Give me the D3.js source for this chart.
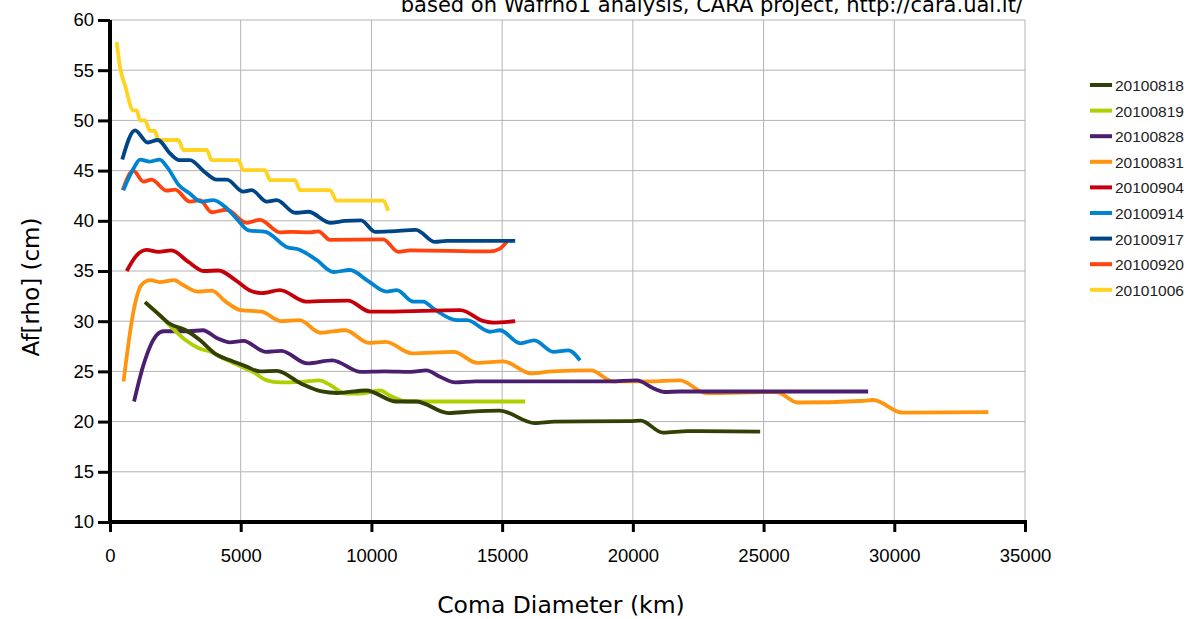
<!DOCTYPE html>
<html>
<head>
<meta charset="utf-8">
<script src="https://cdn.jsdelivr.net/npm/d3@7"></script>
<style>
  html, body { margin: 0; padding: 0; background: #ffffff; }
  svg { display: block; }
</style>
</head>
<body>
<svg id="chart" width="1188" height="619"></svg>
<script>
// Af[rho] profiles versus coma diameter, one line per observing night
const seriesNames = ["20100818", "20100819", "20100828", "20100831", "20100904",
                     "20100914", "20100917", "20100920", "20101006"];
const seriesColors = ["#314004", "#aecf00", "#4b1f6f", "#ff950e", "#c5000b",
                      "#0084d1", "#004586", "#ff420e", "#ffd320"];

// [coma diameter (km), Af[rho] (cm)]
const s20100818 = [[1340,31.9],[1900,30.6],[2250,29.8],[2900,29.1],[3450,28.1],[4000,26.8],[4600,26.1],
  [5200,25.5],[5740,25.0],[6380,25.05],[7300,23.8],[8100,23.0],[8700,22.85],[9800,23.1],[10950,22.0],
  [11700,22.0],[12950,20.85],[13800,21.0],[14900,21.1],[16250,19.85],[17000,20.0],[19900,20.05],
  [20300,20.1],[21150,18.9],[22100,19.05],[24870,19.0]];
const s20100819 = [[1340,31.9],[1900,30.6],[2200,29.8],[2900,28.1],[3400,27.3],[3850,26.95],[4400,26.2],
  [4750,25.8],[5500,24.9],[6000,24.1],[6500,23.9],[7300,23.95],[8000,24.1],[8450,23.6],[9000,22.8],
  [9600,22.8],[10330,23.1],[10700,22.6],[11350,22.0],[15880,22.0]];
const s20100828 = [[920,22.0],[1275,25.6],[1780,28.6],[2050,29.0],[3000,29.0],[3550,29.1],[4100,28.3],
  [4590,27.9],[5100,28.05],[5950,26.95],[6550,27.05],[7550,25.8],[8500,26.1],[9600,24.95],[10500,25.0],
  [11500,24.95],[12100,25.1],[12600,24.5],[13200,23.9],[14000,24.0],[19100,24.0],[20150,24.1],
  [20800,23.3],[21200,22.95],[21800,23.0],[29000,23.0]];
const s20100831 = [[520,24.0],[900,31.0],[1200,33.6],[1530,34.1],[1900,33.9],[2450,34.1],[2800,33.6],
  [3350,32.95],[3900,33.05],[4400,32.0],[5000,31.1],[5800,30.95],[6550,30.0],[7250,30.1],[8050,28.85],
  [9000,29.1],[9900,27.85],[10550,27.95],[11550,26.8],[13150,26.95],[14050,25.85],[15050,26.0],
  [16100,24.8],[16900,25.0],[18400,25.1],[19250,24.0],[20600,24.0],[21800,24.1],[22800,22.85],
  [25500,22.95],[26300,21.9],[28700,22.05],[29200,22.15],[30300,20.9],[33600,20.95]];
const s20100904 = [[640,35.0],[1000,36.5],[1400,37.1],[1850,36.9],[2350,37.05],[3000,35.9],[3600,35.0],
  [4150,35.05],[4800,34.1],[5400,33.0],[5800,32.8],[6500,33.1],[7500,31.95],[8000,32.0],[9100,32.05],
  [9950,30.95],[10600,30.95],[13400,31.1],[14300,30.0],[14650,29.85],[15500,30.0]];
const s20100914 = [[510,43.05],[900,45.2],[1150,46.1],[1530,45.9],[1900,46.1],[2200,45.3],[2620,43.6],
  [3060,42.7],[3500,41.9],[3950,42.05],[4400,41.4],[4850,40.2],[5300,39.05],[5950,38.9],[6750,37.4],
  [7270,37.1],[7900,36.1],[8550,34.9],[9180,35.1],[9850,34.05],[10580,32.95],[10970,33.1],[11600,31.95],
  [11980,31.95],[12400,31.2],[13260,30.1],[13650,30.1],[14540,28.95],[14920,29.1],[15700,27.8],
  [16230,28.1],[16960,26.95],[17530,27.1],[17980,26.1]];
const s20100917 = [[470,46.1],[956,49.0],[1440,47.8],[1830,48.05],[2300,46.7],[2650,46.05],[3060,46.05],
  [3600,44.9],[4080,44.1],[4470,44.1],[5100,42.9],[5420,43.05],[6000,41.9],[6380,42.05],[7080,40.8],
  [7590,40.9],[8420,39.8],[9000,40.0],[9600,40.05],[10140,38.9],[10750,38.95],[11700,39.1],
  [12430,37.9],[12880,38.0],[15500,38.0]];
const s20100920 = [[485,43.05],[890,45.0],[1280,43.9],[1590,44.1],[2170,43.0],[2490,43.1],[3060,41.9],
  [3440,42.05],[3890,40.85],[4460,41.1],[5230,39.8],[5740,40.1],[6500,38.85],[6890,38.9],[7650,38.85],
  [7970,38.95],[8420,38.1],[10450,38.15],[11030,36.9],[11480,37.05],[14540,36.95],[14900,37.2],
  [15180,37.9]];
const s20101006 = [[256,57.8],[383,55.3],[574,53.5],[891,51.0],[1020,51.0],[1148,50.0],[1339,50.0],
  [1530,48.95],[1721,48.95],[1849,48.05],[2614,48.05],[2806,47.05],[3699,47.05],[3889,46.05],
  [4910,46.05],[5100,45.05],[5930,45.05],[6121,44.05],[7077,44.05],[7268,43.05],[8416,43.05],
  [8672,42.0],[10440,42.0],[10640,41.0]];

const seriesValues = [s20100818, s20100819, s20100828, s20100831, s20100904,
                      s20100914, s20100917, s20100920, s20101006];

const xTicks = [0, 5000, 10000, 15000, 20000, 25000, 30000, 35000];
const yTicks = [10, 15, 20, 25, 30, 35, 40, 45, 50, 55, 60];

const svg = d3.select("#chart");
const plot = { left: 110, right: 1025, top: 20, bottom: 522 };

const x = d3.scaleLinear().domain([0, 35000]).range([plot.left, plot.right]);
const y = d3.scaleLinear().domain([10, 60]).range([plot.bottom, plot.top]);

const tickFont = "'Liberation Sans', Arial, sans-serif";
const titleFont = "'DejaVu Sans', Verdana, sans-serif";

// grid
const grid = svg.append("g");
grid.selectAll("line.gx").data(xTicks.slice(1)).enter().append("line")
  .attr("x1", d => x(d)).attr("x2", d => x(d))
  .attr("y1", plot.top).attr("y2", plot.bottom)
  .attr("stroke", "#b3b3b3").attr("stroke-width", 1);
grid.selectAll("line.gy").data(yTicks.slice(1)).enter().append("line")
  .attr("x1", plot.left).attr("x2", plot.right)
  .attr("y1", d => y(d)).attr("y2", d => y(d))
  .attr("stroke", "#b3b3b3").attr("stroke-width", 1);

// lines (first night drawn last, so it sits on top)
const line = d3.line()
  .x(d => x(d[0])).y(d => y(d[1]))
  .curve(d3.curveMonotoneX);

const order = d3.range(seriesNames.length).reverse();
svg.append("g").selectAll("path").data(order).enter().append("path")
  .attr("d", i => line(seriesValues[i]))
  .attr("fill", "none")
  .attr("stroke", i => seriesColors[i])
  .attr("stroke-width", 3.8)
  .attr("stroke-linejoin", "round")
  .attr("stroke-linecap", "butt");

// axes
const yAxis = d3.axisLeft(y).tickValues(yTicks).tickSize(12).tickPadding(4);
const gy = svg.append("g").attr("transform", `translate(${plot.left},0)`).call(yAxis);
gy.select(".domain").remove();
gy.selectAll(".tick line").attr("stroke", "#000").attr("stroke-width", 3);
gy.selectAll(".tick text").attr("font-family", tickFont).attr("font-size", 18.5).attr("fill", "#000");

const xAxis = d3.axisBottom(x).tickValues(xTicks).tickFormat(d3.format("d")).tickSize(10).tickPadding(17);
const gx = svg.append("g").attr("transform", `translate(0,${plot.bottom})`).call(xAxis);
gx.select(".domain").remove();
gx.selectAll(".tick line").attr("stroke", "#000").attr("stroke-width", 3);
gx.selectAll(".tick text").attr("font-family", tickFont).attr("font-size", 18.5).attr("fill", "#000");

// thick spines
svg.append("line").attr("x1", plot.left).attr("x2", plot.left)
  .attr("y1", plot.top).attr("y2", plot.bottom + 2)
  .attr("stroke", "#000").attr("stroke-width", 4);
svg.append("line").attr("x1", plot.left - 2).attr("x2", plot.right + 2)
  .attr("y1", plot.bottom).attr("y2", plot.bottom)
  .attr("stroke", "#000").attr("stroke-width", 4);

// titles
svg.append("text").attr("x", 1023).attr("y", 12)
  .attr("text-anchor", "end").attr("font-family", titleFont).attr("font-size", 21)
  .attr("fill", "#000")
  .text("based on Wafrho1 analysis, CARA project, http://cara.uai.it/");

svg.append("text").attr("x", 561).attr("y", 613)
  .attr("text-anchor", "middle").attr("font-family", titleFont).attr("font-size", 23.5)
  .attr("fill", "#000").text("Coma Diameter (km)");

svg.append("text").attr("transform", "translate(39,287) rotate(-90)")
  .attr("text-anchor", "middle").attr("font-family", titleFont).attr("font-size", 23)
  .attr("fill", "#000").text("Af[rho] (cm)");

// legend
const legend = svg.append("g").attr("transform", "translate(1090,85)");
const item = legend.selectAll("g").data(seriesNames).enter().append("g")
  .attr("transform", (d, i) => `translate(0,${i * 25.6})`);
item.append("line").attr("x1", 0).attr("x2", 22).attr("y1", 0).attr("y2", 0)
  .attr("stroke", (d, i) => seriesColors[i]).attr("stroke-width", 4);
item.append("text").attr("x", 25).attr("y", 6)
  .attr("font-family", tickFont).attr("font-size", 15.5).attr("fill", "#222")
  .text(d => d);
</script>
</body>
</html>
